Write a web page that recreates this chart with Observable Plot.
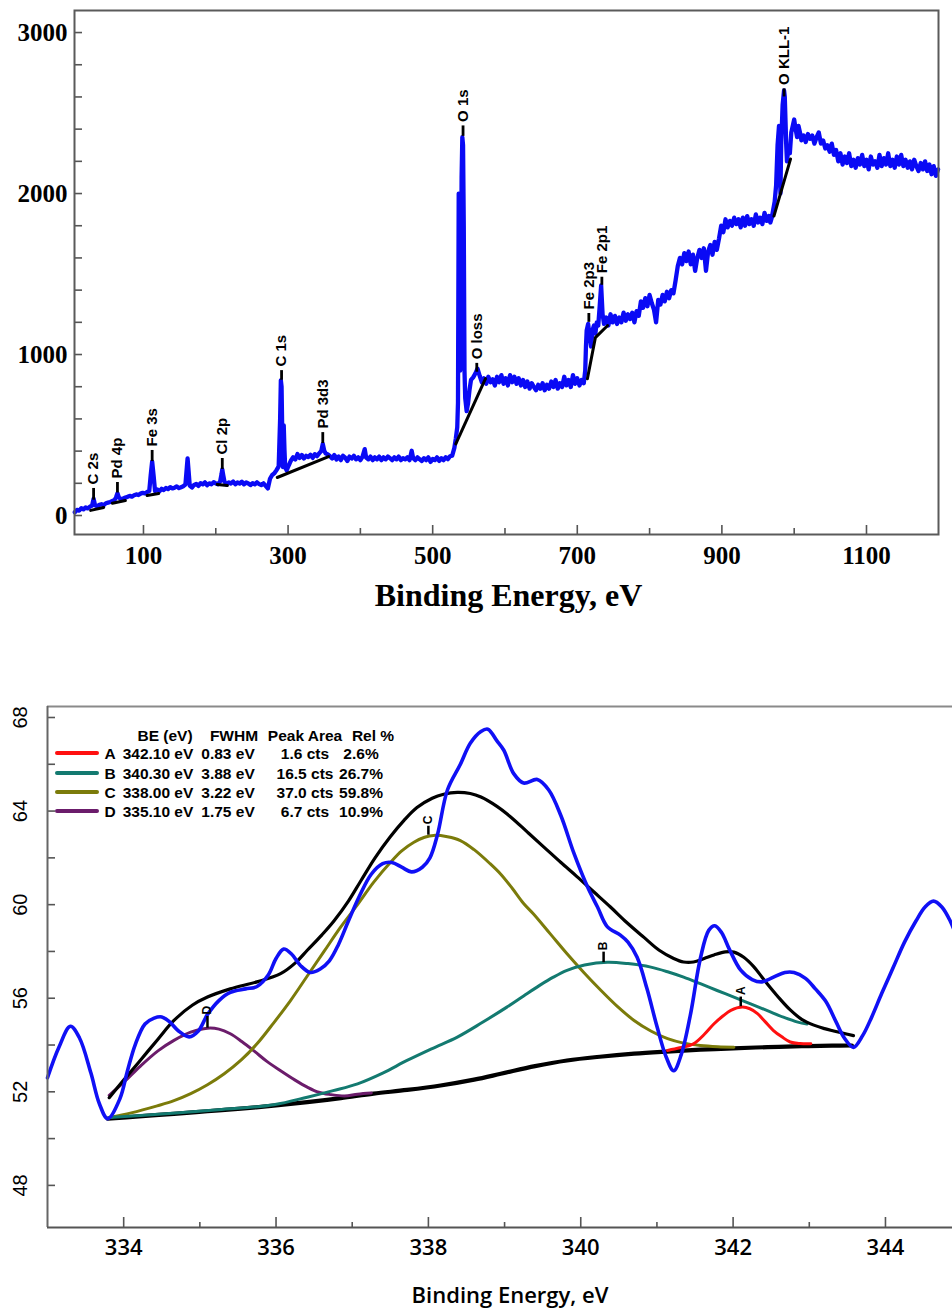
<!DOCTYPE html>
<html><head><meta charset="utf-8">
<script src="https://cdn.jsdelivr.net/npm/d3@7"></script>
<script src="https://cdn.jsdelivr.net/npm/@observablehq/plot@0.6"></script>
<style>
html,body{margin:0;padding:0;background:#fff;width:952px;height:1310px;overflow:hidden}
#wrap{position:relative;width:952px;height:1310px;overflow:hidden;background:#fff}
#top{position:absolute;left:0;top:0}
#bot{position:absolute;left:0;top:640px}
</style></head><body><div id="wrap"><div id="top"></div><div id="bot"></div></div>
<script>
// ===================== DATA: XPS survey =====================
const surveySpectrum = [
[5,20],[8,35],[11,30],[14,45],[17,38],[20,50],[23,44],[26,55],[29,62],[31,105],[33,64],[36,58],[39,66],[42,70],[45,64],[48,76],[51,80],[54,84],[57,90],[60,96],[62,112],[64,138],[66,112],[69,100],[72,106],[75,112],[78,116],[81,122],[84,117],[87,126],[90,131],[93,127],[96,136],[99,141],[102,137],[105,146],[108,152],[110,250],[112,335],[114,248],[116,152],[119,162],[122,150],[125,166],[128,158],[131,171],[134,164],[137,176],[140,168],[143,173],[146,181],[149,170],[152,176],[155,182],[158,192],[160,300],[161,355],[162,298],[164,186],[167,174],[170,190],[173,196],[176,184],[179,201],[182,194],[185,206],[188,188],[191,200],[194,194],[197,207],[200,199],[203,194],[206,211],[208,258],[209,286],[210,258],[212,210],[215,194],[218,206],[221,199],[224,211],[227,194],[230,205],[233,199],[236,210],[239,194],[242,206],[245,199],[248,189],[251,201],[254,194],[257,206],[260,195],[263,189],[266,200],[269,184],[272,168],[275,228],[278,252],[281,262],[284,282],[287,305],[289,600],[290,840],[291,800],[292,500],[293,300],[294,560],[295,410],[296,300],[298,280],[301,312],[304,342],[307,362],[310,348],[313,382],[316,358],[319,376],[322,354],[325,371],[328,363],[331,377],[334,358],[337,381],[340,369],[343,386],[346,402],[348,445],[350,402],[352,386],[355,379],[358,368],[361,354],[364,376],[367,348],[370,366],[373,344],[376,371],[379,359],[382,339],[385,366],[388,354],[391,371],[394,349],[397,361],[400,344],[403,366],[406,412],[408,360],[411,349],[414,366],[417,344],[420,361],[423,349],[426,366],[429,344],[432,361],[435,349],[438,366],[441,356],[444,344],[447,361],[450,349],[453,366],[456,344],[459,356],[462,349],[465,361],[468,344],[471,402],[473,356],[476,344],[479,361],[482,349],[485,339],[488,356],[491,344],[494,361],[497,333],[500,351],[503,344],[506,361],[509,339],[512,356],[515,344],[518,362],[521,350],[524,368],[527,372],[530,420],[532,478],[534,548],[535,700],[536,2000],[537,1500],[538,900],[539,1200],[540,2100],[541,2350],[542,2300],[543,1800],[544,900],[545,730],[547,648],[549,700],[551,782],[553,842],[556,858],[559,882],[562,912],[565,868],[568,828],[571,852],[574,818],[577,862],[580,828],[583,846],[586,808],[589,862],[592,828],[595,872],[598,818],[601,852],[604,808],[607,872],[610,828],[613,862],[616,818],[619,852],[622,808],[625,842],[628,798],[631,832],[634,788],[637,822],[640,798],[643,778],[646,812],[649,788],[652,822],[655,778],[658,812],[661,788],[664,832],[667,798],[670,842],[673,788],[676,822],[679,798],[682,862],[685,808],[688,842],[691,798],[694,872],[697,818],[700,852],[703,808],[706,842],[709,822],[711,900],[712,1050],[713,1150],[715,1190],[717,1120],[719,1050],[721,1150],[723,1180],[725,1130],[727,1200],[729,1180],[731,1300],[733,1430],[735,1250],[737,1190],[740,1230],[743,1180],[746,1250],[749,1200],[752,1240],[755,1190],[758,1230],[761,1200],[764,1260],[767,1210],[770,1250],[773,1220],[776,1260],[779,1200],[782,1270],[785,1240],[788,1330],[791,1290],[794,1350],[797,1300],[800,1370],[803,1320],[806,1280],[809,1200],[812,1340],[815,1310],[818,1370],[821,1330],[824,1390],[827,1350],[830,1400],[833,1380],[836,1460],[839,1550],[842,1600],[845,1560],[848,1630],[851,1580],[854,1640],[857,1560],[860,1620],[863,1520],[866,1600],[869,1650],[872,1600],[875,1660],[878,1520],[881,1640],[884,1680],[887,1620],[890,1700],[893,1650],[896,1720],[899,1800],[902,1760],[905,1840],[908,1790],[911,1830],[914,1800],[917,1850],[920,1810],[923,1840],[926,1790],[929,1850],[932,1800],[935,1860],[938,1810],[941,1840],[944,1800],[947,1870],[950,1820],[953,1850],[956,1810],[959,1880],[962,1830],[965,1860],[967,1820],[969,1850],[971,1900],[973,1950],[975,2050],[977,2300],[979,2420],[980,2200],[981,2000],[982,2300],[984,2550],[986,2640],[987,2600],[988,2450],[989,2300],[990,2200],[992,2280],[994,2250],[996,2380],[998,2420],[1000,2460],[1002,2400],[1004,2350],[1006,2420],[1008,2380],[1010,2330],[1013,2360],[1016,2320],[1019,2370],[1022,2340],[1025,2360],[1028,2310],[1031,2350],[1034,2380],[1037,2310],[1040,2330],[1043,2280],[1046,2300],[1049,2260],[1052,2310],[1055,2240],[1058,2270],[1061,2200],[1064,2250],[1067,2180],[1070,2230],[1073,2190],[1076,2250],[1079,2170],[1082,2210],[1085,2160],[1088,2220],[1091,2180],[1094,2240],[1097,2170],[1100,2210],[1103,2150],[1106,2230],[1109,2180],[1112,2200],[1115,2160],[1118,2240],[1121,2170],[1124,2220],[1127,2180],[1130,2250],[1133,2170],[1136,2210],[1139,2160],[1142,2230],[1145,2180],[1148,2240],[1151,2170],[1154,2210],[1157,2160],[1160,2200],[1163,2150],[1166,2210],[1169,2170],[1172,2140],[1175,2190],[1178,2150],[1181,2200],[1184,2140],[1187,2180],[1190,2120],[1193,2170],[1196,2110],[1199,2150]
];
const surveyBackground = [
  [[27,32],[45,50]],
  [[57,76],[75,93]],
  [[105,124],[121,137]],
  [[202,193],[216,186]],
  [[285,236],[356,366]],
  [[532,445],[573,850]],
  [[714,850],[725,1105],[742,1180]],
  [[972,1860],[995,2215]]
];
const surveyPeaks = [
  {name:"C 2s", e:31, lo:95, hi:168},
  {name:"Pd 4p", e:64, lo:140, hi:205},
  {name:"Fe 3s", e:112, lo:335, hi:404},
  {name:"Cl 2p", e:209, lo:286, hi:354},
  {name:"C 1s", e:291, lo:840, hi:900},
  {name:"Pd 3d3", e:348, lo:447, hi:515},
  {name:"O 1s", e:542, lo:2355, hi:2420},
  {name:"O loss", e:561, lo:890, hi:945},
  {name:"Fe 2p3", e:716, lo:1200, hi:1255},
  {name:"Fe 2p1", e:734, lo:1430, hi:1480},
  {name:"O KLL-1", e:986, lo:2600, hi:2650}
];
const surveyXLabels = [100,300,500,700,900,1100];
const surveyXMinor = [200,400,600,800,1000];
const surveyYLabels = [0,1000,2000,3000];
const surveyYTicks = [0,200,400,600,800,1000,1200,1400,1600,1800,2000,2200,2400,2600,2800,3000];
const surveyXDomain = [4.6, 1199.6];
const surveyYDomain = [-118, 3137];

// ===================== DATA: Pd 3d high-resolution fit =====================
const fitRaw = [
[333.0,52.6],[333.15,53.9],[333.3,54.8],[333.42,54.3],[333.57,52.8],[333.68,51.5],[333.79,50.85],[333.95,51.7],[334.05,52.9],[334.15,54.0],[334.28,54.9],[334.4,55.15],[334.5,55.2],[334.6,55.0],[334.72,54.6],[334.86,54.35],[334.98,54.6],[335.1,55.3],[335.25,55.9],[335.4,56.25],[335.6,56.4],[335.75,56.5],[335.9,57.0],[336.0,57.7],[336.1,58.1],[336.2,57.9],[336.32,57.4],[336.45,57.1],[336.58,57.25],[336.7,57.6],[336.82,58.3],[336.95,59.3],[337.1,60.4],[337.25,61.3],[337.4,61.75],[337.52,61.8],[337.65,61.6],[337.78,61.4],[337.92,61.6],[338.02,62.0],[338.12,63.0],[338.25,64.9],[338.42,66.0],[338.55,66.9],[338.69,67.4],[338.78,67.5],[338.9,67.0],[338.99,66.6],[339.12,65.6],[339.25,65.2],[339.43,65.35],[339.58,64.9],[339.74,63.8],[339.91,62.2],[340.09,60.75],[340.22,59.9],[340.35,59.05],[340.52,58.7],[340.62,58.4],[340.74,57.75],[340.87,56.4],[341.0,54.8],[341.12,53.5],[341.22,52.9],[341.32,53.6],[341.44,55.3],[341.57,57.7],[341.68,58.9],[341.76,59.1],[341.85,58.8],[341.95,58.1],[342.1,57.2],[342.25,56.8],[342.38,56.7],[342.53,56.9],[342.68,57.1],[342.8,57.1],[342.95,56.85],[343.08,56.4],[343.22,55.85],[343.35,55.0],[343.46,54.3],[343.58,53.9],[343.7,54.4],[343.82,55.2],[343.95,56.2],[344.1,57.3],[344.25,58.4],[344.4,59.3],[344.52,59.9],[344.63,60.15],[344.74,59.9],[344.85,59.3],[344.95,58.5]
];
const fitEnvelope = [
[333.81,51.75],[334.0,52.5],[334.22,53.35],[334.45,54.25],[334.66,55.05],[334.9,55.7],[335.1,56.05],[335.4,56.4],[335.75,56.7],[336.06,57.05],[336.25,57.5],[336.41,58.05],[336.6,58.7],[336.76,59.3],[336.95,60.15],[337.11,61.0],[337.3,62.0],[337.5,62.9],[337.68,63.6],[337.85,64.15],[338.05,64.55],[338.2,64.72],[338.38,64.8],[338.55,64.75],[338.69,64.6],[338.9,64.2],[339.08,63.75],[339.3,63.1],[339.52,62.45],[339.74,61.8],[339.95,61.2],[340.17,60.55],[340.39,59.9],[340.6,59.25],[340.83,58.6],[341.03,58.05],[341.22,57.7],[341.35,57.55],[341.48,57.55],[341.62,57.7],[341.75,57.85],[341.9,57.98],[342.01,57.97],[342.14,57.75],[342.27,57.35],[342.38,56.9],[342.49,56.45],[342.62,55.95],[342.75,55.5],[342.9,55.1],[343.06,54.85],[343.2,54.7],[343.32,54.6],[343.45,54.5],[343.58,54.4]
];
const fitBaseline = [
[333.79,50.85],[334.2,50.95],[334.66,51.06],[335.1,51.17],[335.54,51.28],[336.0,51.42],[336.41,51.56],[336.85,51.73],[337.28,51.92],[337.72,52.08],[338.16,52.27],[338.6,52.52],[338.95,52.77],[339.4,53.1],[339.82,53.34],[340.25,53.5],[340.7,53.63],[341.13,53.72],[341.57,53.8],[342.0,53.86],[342.45,53.91],[342.9,53.95],[343.3,53.97],[343.56,53.98]
];
const fitCompA = [
[341.14,53.77],[341.3,53.88],[341.48,54.05],[341.62,54.45],[341.75,54.91],[341.87,55.25],[341.97,55.48],[342.12,55.62],[342.22,55.55],[342.32,55.34],[342.42,55.0],[342.53,54.62],[342.64,54.35],[342.75,54.13],[342.88,54.06],[343.02,54.05]
];
const fitCompB = [
[333.81,50.9],[334.5,51.05],[335.2,51.22],[335.97,51.45],[336.41,51.77],[336.75,52.05],[337.07,52.34],[337.4,52.8],[337.72,53.34],[338.05,53.85],[338.38,54.34],[338.7,54.95],[339.03,55.62],[339.25,56.1],[339.46,56.55],[339.64,56.9],[339.82,57.19],[340.05,57.42],[340.35,57.54],[340.62,57.48],[340.92,57.33],[341.15,57.12],[341.35,56.9],[341.57,56.62],[341.79,56.33],[342.01,56.05],[342.23,55.76],[342.45,55.47],[342.66,55.19],[342.85,54.98],[342.97,54.9]
];
const fitCompC = [
[333.81,50.9],[334.1,51.1],[334.44,51.4],[334.66,51.62],[334.88,51.92],[335.1,52.3],[335.32,52.77],[335.54,53.35],[335.75,54.05],[335.97,54.95],[336.19,55.9],[336.41,56.95],[336.63,58.0],[336.85,59.05],[337.07,60.0],[337.28,60.95],[337.5,61.8],[337.65,62.3],[337.81,62.67],[337.95,62.88],[338.07,62.96],[338.25,62.9],[338.42,62.74],[338.6,62.35],[338.81,61.75],[338.95,61.3],[339.1,60.7],[339.25,60.05],[339.38,59.6],[339.6,58.75],[339.82,57.9],[340.04,57.1],[340.26,56.35],[340.48,55.65],[340.7,55.05],[340.92,54.6],[341.14,54.27],[341.35,54.08],[341.57,53.98],[341.8,53.93],[342.01,53.91]
];
const fitCompD = [
[333.81,51.85],[334.0,52.4],[334.22,53.1],[334.45,53.75],[334.66,54.2],[334.88,54.55],[335.1,54.72],[335.25,54.68],[335.4,54.48],[335.55,54.15],[335.71,53.75],[335.88,53.3],[336.06,52.9],[336.25,52.5],[336.41,52.2],[336.56,51.98],[336.72,51.88],[336.9,51.82],[337.07,51.9],[337.25,51.95]
];
const fitPeakMarks = [
  {name:"A", e:342.1, lo:55.64, hi:56.05},
  {name:"B", e:340.3, lo:57.52, hi:57.97},
  {name:"C", e:338.0, lo:62.97, hi:63.35},
  {name:"D", e:335.1, lo:54.72, hi:55.22}
];
const fitComponents = [
  {id:"A", be:"342.10 eV", fwhm:"0.83 eV", area:"1.6 cts", rel:"2.6%", color:"#ff1010"},
  {id:"B", be:"340.30 eV", fwhm:"3.88 eV", area:"16.5 cts", rel:"26.7%", color:"#137a70"},
  {id:"C", be:"338.00 eV", fwhm:"3.22 eV", area:"37.0 cts", rel:"59.8%", color:"#7b7b0a"},
  {id:"D", be:"335.10 eV", fwhm:"1.75 eV", area:"6.7 cts", rel:"10.9%", color:"#6b1c6b"}
];
const fitHeader = ["BE (eV)", "FWHM", "Peak Area", "Rel %"];
const fitXLabels = [334,336,338,340,342,344];
const fitXMinor = [335,337,339,341,343];
const fitYLabels = [48,52,56,60,64,68];
const fitYTicks = [48,50,52,54,56,58,60,62,64,66,68];
const fitXDomain = [333.0, 344.88];
const fitYDomain = [46.2, 68.47];

// ===================== TOP CHART =====================
const serif = "'Liberation Serif', 'Times New Roman', serif";
const sans = "'Liberation Sans', Arial, sans-serif";
const bgFlat = surveyBackground.flatMap((seg, i) => seg.map(([e, c]) => ({seg: i, e, c})));
const tW = 952, tH = 640, tML = 74, tMR = 14, tMT = 10, tMB = 106;
const tIW = tW - tML - tMR, tIH = tH - tMT - tMB;
const axisCol = "#555";

const topPlot = Plot.plot({
  width: tW, height: tH,
  marginLeft: tML, marginRight: tMR, marginTop: tMT, marginBottom: tMB,
  x: {domain: surveyXDomain, axis: null},
  y: {domain: surveyYDomain, axis: null},
  style: {background: "white", maxWidth: "none", overflow: "visible"},
  marks: [
    Plot.line(surveySpectrum, {x: d => d[0], y: d => d[1], stroke: "#0a0af5", strokeWidth: 4.3, strokeLinejoin: "round"}),
    Plot.line(bgFlat, {x: "e", y: "c", z: "seg", stroke: "black", strokeWidth: 3}),
    Plot.ruleX(surveyPeaks, {x: "e", y1: "lo", y2: "hi", stroke: "black", strokeWidth: 2.8}),
    Plot.text(surveyPeaks, {x: "e", y: "hi", text: "name", rotate: -90, textAnchor: "start", lineAnchor: "middle", dy: -4, fontSize: 15, fontWeight: "bold", fontFamily: sans, fill: "black"}),
    Plot.ruleX(surveyXLabels, {x: d => d, insetTop: tIH - 9, stroke: axisCol, strokeWidth: 1.6}),
    Plot.ruleX(surveyXMinor, {x: d => d, insetTop: tIH - 6, stroke: axisCol, strokeWidth: 1.6}),
    Plot.ruleY(surveyYTicks, {y: d => d, insetRight: tIW - 8, stroke: axisCol, strokeWidth: 1.6}),
    Plot.frame({stroke: "#5a5a5a", strokeWidth: 2}),
    Plot.text(surveyXLabels, {x: d => d, text: d => String(d), frameAnchor: "bottom", dy: 21, lineAnchor: "middle", fontFamily: serif, fontWeight: "bold", fontSize: 25, fill: "black"}),
    Plot.text(surveyYLabels, {y: d => d, text: d => String(d), frameAnchor: "left", dx: -7, textAnchor: "end", lineAnchor: "middle", fontFamily: serif, fontWeight: "bold", fontSize: 25, fill: "black"}),
    Plot.text(["Binding Energy, eV"], {text: d => d, frameAnchor: "bottom", dx: 2, dy: 61, lineAnchor: "middle", fontFamily: serif, fontWeight: "bold", fontSize: 32, fill: "black"})
  ]
});
document.getElementById("top").appendChild(topPlot);

// ===================== BOTTOM CHART =====================
const bW = 952, bH = 670, bML = 47, bMR = 0, bMT = 66, bMB = 83;
const bIW = bW - bML - bMR, bIH = bH - bMT - bMB;
const open = "'Open Sans', 'Liberation Sans', sans-serif";
const col = Object.fromEntries(fitComponents.map(c => [c.id, c.color]));
const xy = {x: d => d[0], y: d => d[1], curve: "catmull-rom"};

const botPlot = Plot.plot({
  width: bW, height: bH,
  marginLeft: bML, marginRight: bMR, marginTop: bMT, marginBottom: bMB,
  x: {domain: fitXDomain, axis: null},
  y: {domain: fitYDomain, axis: null},
  style: {background: "white", maxWidth: "none", overflow: "hidden"},
  marks: [
    Plot.line(fitBaseline, {...xy, stroke: "black", strokeWidth: 4.2}),
    Plot.line(fitCompD, {...xy, stroke: col.D, strokeWidth: 3}),
    Plot.line(fitCompC, {...xy, stroke: col.C, strokeWidth: 3}),
    Plot.line(fitCompB, {...xy, stroke: col.B, strokeWidth: 3}),
    Plot.line(fitCompA, {...xy, stroke: col.A, strokeWidth: 3}),
    Plot.line(fitEnvelope, {...xy, stroke: "black", strokeWidth: 3.2}),
    Plot.line(fitRaw, {...xy, stroke: "#1010f5", strokeWidth: 3.6}),
    Plot.ruleX(fitPeakMarks, {x: "e", y1: "lo", y2: "hi", stroke: "black", strokeWidth: 2.5}),
    Plot.text(fitPeakMarks, {x: "e", y: "hi", text: "name", rotate: -90, textAnchor: "start", lineAnchor: "middle", dy: -2, fontSize: 12, fontWeight: "bold", fontFamily: sans, fill: "black"}),
    Plot.ruleX(fitXLabels, {x: d => d, insetTop: bIH - 10, stroke: axisCol, strokeWidth: 1.6}),
    Plot.ruleX(fitXMinor, {x: d => d, insetTop: bIH - 5, stroke: axisCol, strokeWidth: 1.6}),
    Plot.ruleY(fitYTicks, {y: d => d, insetRight: bIW - 8, stroke: axisCol, strokeWidth: 1.6}),
    Plot.ruleY([fitYDomain[1]], {stroke: "#8a8a8a", strokeWidth: 2}),
    Plot.ruleX([fitXDomain[0]], {stroke: "#666", strokeWidth: 2}),
    Plot.ruleY([fitYDomain[0]], {stroke: "#555", strokeWidth: 2}),
    Plot.text(fitXLabels, {x: d => d, text: d => String(d), frameAnchor: "bottom", dy: 20, lineAnchor: "middle", fontFamily: open, fontWeight: 600, fontSize: 22, fill: "black"}),
    Plot.text(fitYLabels, {y: d => d, text: d => String(d), frameAnchor: "left", dx: -27, rotate: -90, textAnchor: "middle", lineAnchor: "middle", fontFamily: sans, fontSize: 20, fill: "black"}),
    Plot.text(["Binding Energy, eV"], {text: d => d, frameAnchor: "bottom", dx: 10, dy: 68, lineAnchor: "middle", fontFamily: open, fontWeight: 600, fontSize: 22, fill: "black"})
  ]
});
document.getElementById("bot").appendChild(botPlot);

// Legend (fit parameter table) drawn inside the bottom SVG
const lg = d3.select(botPlot).append("g")
  .attr("font-family", sans).attr("font-weight", "bold").attr("font-size", 15.5).attr("fill", "black");
const headX = [165, 234, 305, 373];
const colX = [158, 228, 305, 361];
const rowY = [113, 133, 152, 171];
lg.selectAll("text.h").data(fitHeader).join("text").attr("class", "h")
  .attr("x", (d, i) => headX[i]).attr("y", 95).attr("dy", "0.36em").attr("text-anchor", "middle").text(d => d);
fitComponents.forEach((c, i) => {
  const y = rowY[i];
  lg.append("line").attr("x1", 57).attr("x2", 97).attr("y1", y).attr("y2", y)
    .attr("stroke", c.color).attr("stroke-width", 4).attr("stroke-linecap", "round");
  lg.append("text").attr("x", 110).attr("y", y).attr("dy", "0.36em").attr("text-anchor", "middle").text(c.id);
  [c.be, c.fwhm, c.area, c.rel].forEach((t, j) => {
    lg.append("text").attr("x", colX[j]).attr("y", y).attr("dy", "0.36em").attr("text-anchor", "middle").text(t);
  });
});
</script></body></html>
